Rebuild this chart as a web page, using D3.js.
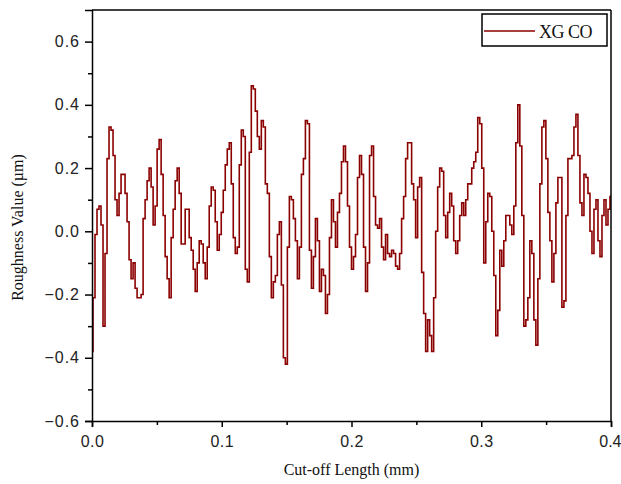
<!DOCTYPE html>
<html>
<head>
<meta charset="utf-8">
<script src="https://cdn.jsdelivr.net/npm/d3@7/dist/d3.min.js"></script>
<style>
  html, body { margin: 0; padding: 0; background: #fff; }
  svg { display: block; }
</style>
</head>
<body>
<svg id="chart" width="621" height="484"></svg>
<script>
// ---- data ----
const seriesName = "XG CO";
const xStart = 0.0;
const xEnd = 0.4;
const roughness = [
  -0.38,-0.21,-0.01,0.07,0.08,0.02,-0.30,-0.07,0.23,0.33,0.32,0.24,0.10,0.05,0.12,0.18,0.18,0.12,0.03,-0.09,
  -0.15,-0.10,-0.18,-0.21,-0.21,-0.20,0.04,0.10,0.16,0.20,0.14,0.02,0.08,0.26,0.29,0.18,0.05,-0.08,-0.15,-0.21,
  -0.02,0.07,0.16,0.20,
  0.12,-0.04,-0.04,0.07,0.07,-0.02,-0.06,-0.12,-0.19,-0.10,-0.03,-0.04,-0.10,-0.15,-0.05,0.08,0.14,0.13,0.03,-0.06,
  -0.01,0.06,0.13,0.21,0.26,0.28,0.15,-0.02,-0.07,-0.05,0.21,0.32,0.30,-0.12,-0.16,0.25,0.46,0.45,0.38,0.30,
  0.26,0.35,0.33,0.15,
  0.12,-0.08,-0.21,-0.16,-0.14,-0.01,0.03,-0.17,-0.40,-0.42,-0.05,0.11,0.10,0.04,-0.03,-0.15,-0.05,0.18,0.23,0.35,
  0.34,-0.06,-0.18,-0.08,0.04,-0.03,-0.19,-0.12,-0.14,-0.26,-0.20,-0.02,0.10,0.03,-0.05,0.06,0.12,0.22,0.27,0.22,
  0.08,-0.05,-0.12,-0.08,
  -0.01,0.17,0.24,0.18,-0.05,-0.19,-0.10,0.24,0.27,0.11,0.02,0.01,0.04,-0.05,-0.09,-0.01,-0.07,-0.08,-0.06,-0.07,
  -0.11,-0.12,-0.07,0.04,0.11,0.23,0.28,0.28,0.15,0.10,-0.02,0.14,0.17,-0.13,-0.26,-0.38,-0.28,-0.33,-0.38,-0.21,
  0.00,0.14,0.20,0.19,
  0.05,-0.02,0.06,0.12,0.08,-0.03,-0.07,-0.03,0.05,0.09,0.05,0.10,0.15,0.15,0.20,0.22,0.25,0.36,0.34,0.20,
  -0.10,0.03,0.12,0.11,0.00,-0.14,-0.33,-0.25,-0.06,-0.11,-0.03,0.05,0.05,0.02,-0.01,0.08,0.28,0.40,0.27,0.05,
  -0.30,-0.28,-0.21,-0.03,
  -0.07,-0.28,-0.36,-0.15,0.15,0.33,0.35,0.23,0.06,-0.03,-0.16,-0.07,0.09,0.17,0.17,-0.24,-0.22,0.05,0.23,0.23,
  0.24,0.33,0.37,0.24,0.09,0.05,0.18,0.17,0.12,0.00,-0.07,0.07,0.10,-0.03,-0.08,0.05,0.10,0.02,0.07,0.11
];
const xTicks = [0.0, 0.1, 0.2, 0.3, 0.4];
const xMinorTicks = [0.05, 0.15, 0.25, 0.35];
const yTicks = [-0.6, -0.4, -0.2, 0.0, 0.2, 0.4, 0.6];
const yMinorTicks = [-0.5, -0.3, -0.1, 0.1, 0.3, 0.5];
const xDomain = [0.0, 0.4];
const yDomain = [-0.6, 0.7];
const xTitle = "Cut-off Length (mm)";
const yTitle = "Roughness Value (\u00b5m)";

// ---- layout ----
const W = 621, H = 484;
const margin = { left: 92, top: 10, right: 10, bottom: 63 };
const iw = W - margin.left - margin.right;
const ih = H - margin.top - margin.bottom;
const lineColor = "#8b0000";

const svg = d3.select("#chart");
const g = svg.append("g").attr("transform", `translate(${margin.left},${margin.top})`);

const x = d3.scaleLinear().domain(xDomain).range([0, iw]);
const y = d3.scaleLinear().domain(yDomain).range([ih, 0]);

const step = (xEnd - xStart) / (roughness.length - 1);
const points = roughness.map((v, i) => ({ x: xStart + i * step, y: v }));

// clip
svg.append("defs").append("clipPath").attr("id", "clip")
  .append("rect").attr("width", iw).attr("height", ih);

// line
const line = d3.line().x(d => x(d.x)).y(d => y(d.y)).curve(d3.curveStep);
g.append("path")
  .datum(points)
  .attr("clip-path", "url(#clip)")
  .attr("fill", "none")
  .attr("stroke", lineColor)
  .attr("stroke-width", 1.6)
  .attr("d", line);

// frame (top and right)
g.append("line").attr("x1", 0).attr("x2", iw).attr("y1", 0).attr("y2", 0)
  .attr("stroke", "#000").attr("stroke-width", 1.5);
g.append("line").attr("x1", iw).attr("x2", iw).attr("y1", 0).attr("y2", ih)
  .attr("stroke", "#000").attr("stroke-width", 1.5);

const fmt = d3.format(".1f");

// x axis
const xAxis = g.append("g").attr("transform", `translate(0,${ih})`)
  .call(d3.axisBottom(x).tickValues(xTicks).tickFormat(fmt).tickSize(6).tickPadding(6));
g.append("g").attr("transform", `translate(0,${ih})`)
  .call(d3.axisBottom(x).tickValues(xMinorTicks).tickFormat("").tickSize(4))
  .call(a => a.select(".domain").remove());

// y axis
const yAxis = g.append("g")
  .call(d3.axisLeft(y).tickValues(yTicks).tickFormat(fmt).tickSize(7).tickPadding(5));
g.append("g")
  .call(d3.axisLeft(y).tickValues(yMinorTicks).tickFormat("").tickSize(4))
  .call(a => a.select(".domain").remove());

svg.selectAll(".domain").attr("stroke", "#000").attr("stroke-width", 1.5);
svg.selectAll(".tick line").attr("stroke", "#000").attr("stroke-width", 1.5);
svg.selectAll(".tick text")
  .attr("fill", "#222")
  .style("font-family", "'Liberation Sans', Arial, sans-serif")
  .style("font-size", "16px")
  .style("letter-spacing", "1px");
xAxis.selectAll(".tick text").attr("dy", "0.9em").style("letter-spacing", "0.5px");
xAxis.selectAll(".tick text").filter(d => d === xDomain[1])
  .attr("text-anchor", "end").attr("x", 10).style("letter-spacing", "0px");

// titles
svg.append("text")
  .attr("x", margin.left + iw / 2).attr("y", 475)
  .attr("text-anchor", "middle")
  .style("font-family", "'Liberation Serif', 'Times New Roman', serif")
  .style("font-size", "16px").attr("fill", "#111")
  .text(xTitle);
svg.append("text")
  .attr("transform", `translate(23,${margin.top + ih / 2 + 12}) rotate(-90)`)
  .attr("text-anchor", "middle")
  .style("font-family", "'Liberation Serif', 'Times New Roman', serif")
  .style("font-size", "16px").attr("fill", "#111")
  .text(yTitle);

// legend
const lg = svg.append("g").attr("transform", "translate(482,14)");
lg.append("rect").attr("width", 125).attr("height", 32)
  .attr("fill", "#fff").attr("stroke", "#000").attr("stroke-width", 1.5);
lg.append("line").attr("x1", 2).attr("x2", 53).attr("y1", 17).attr("y2", 17)
  .attr("stroke", lineColor).attr("stroke-width", 1.5);
lg.append("text").attr("x", 57).attr("y", 23.5)
  .style("font-family", "'Liberation Serif', 'Times New Roman', serif")
  .style("font-size", "18px").style("letter-spacing", "-0.5px").attr("fill", "#111")
  .text(seriesName);
</script>
</body>
</html>
